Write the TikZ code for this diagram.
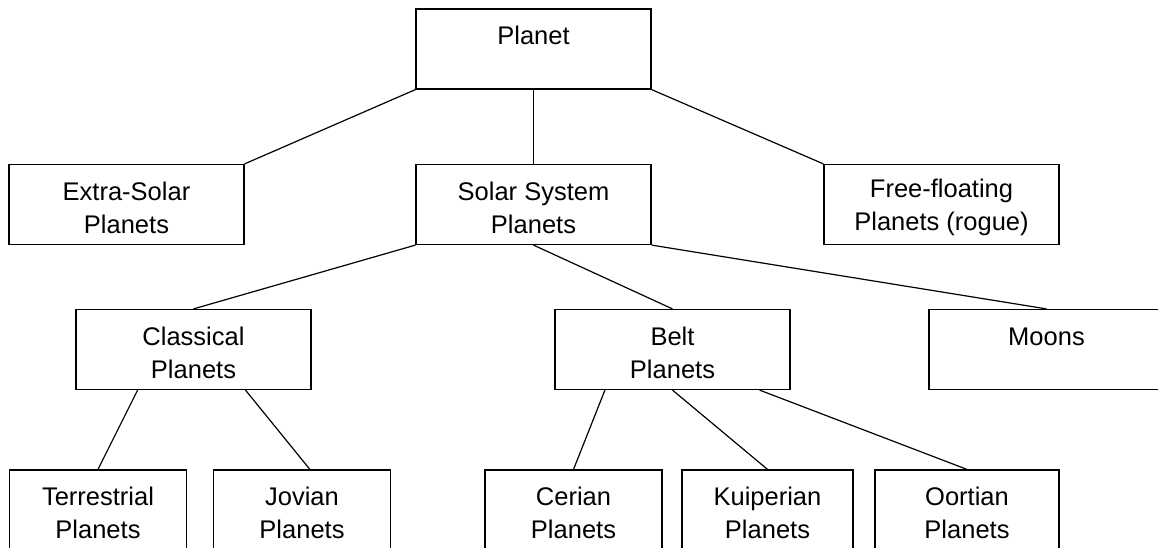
\documentclass[tikz,border=0pt]{standalone}
\usepackage{fontspec}
\setmainfont{Liberation Sans}
\usepackage{tikz}

\begin{document}
\begin{tikzpicture}[x=1pt, y=-1pt,
    box/.style={draw, line width=1.2pt, minimum width=235pt, minimum height=80pt,
      inner sep=0pt, align=center, font=\fontsize{25.5}{33}\selectfont,
      text height=58pt},
    leaf/.style={box, minimum width=177pt},
    link/.style={line width=1.2pt}]
    \useasboundingbox (0, 0) rectangle (1158, 548);
    % top and second row
    \node[box] (planet) at (533.5, 49) {Planet\\\phantom{Planets}};
    \node[box] (extra) at (126.5, 204.5) {Extra-Solar\\Planets};
    \node[box] (solar) at (533.5, 204.5) {Solar System\\Planets};
    \node[box] (free) at (941.5, 204.5) {Free-floating\\Planets (rogue)};
    % third row
    \node[box] (classical) at (193.5, 349.5) {Classical\\Planets};
    \node[box] (belt) at (672.5, 349.5) {Belt\\Planets};
    \node[box] (moons) at (1046.5, 349.5) {Moons\\\phantom{Planets}};
    % bottom row
    \node[leaf] (terrestrial) at (98, 510) {Terrestrial\\Planets};
    \node[leaf] (jovian) at (302, 510) {Jovian\\Planets};
    \node[leaf] (cerian) at (573.5, 510) {Cerian\\Planets};
    \node[leaf, minimum width=171pt] (kuiperian) at (767.5, 510) {Kuiperian\\Planets};
    \node[leaf, minimum width=184pt] (oortian) at (967, 510) {Oortian\\Planets};

    \draw[link] (planet.south west) -- (extra.north east);
    \draw[link] (planet.south) -- (solar.north);
    \draw[link] (planet.south east) -- (free.north west);
    \draw[link] (solar.south west) -- (classical.north);
    \draw[link] (solar.south) -- (belt.north);
    \draw[link] (solar.south east) -- (moons.north);
    \draw[link] (classical.-144) -- (terrestrial.north);
    \draw[link] (classical.-38) -- (jovian.79);
    \draw[link] (belt.-149) -- (cerian.north);
    \draw[link] (belt.south) -- (kuiperian.north);
    \draw[link] (belt.-25) -- (oortian.north);
\end{tikzpicture}
\end{document}
